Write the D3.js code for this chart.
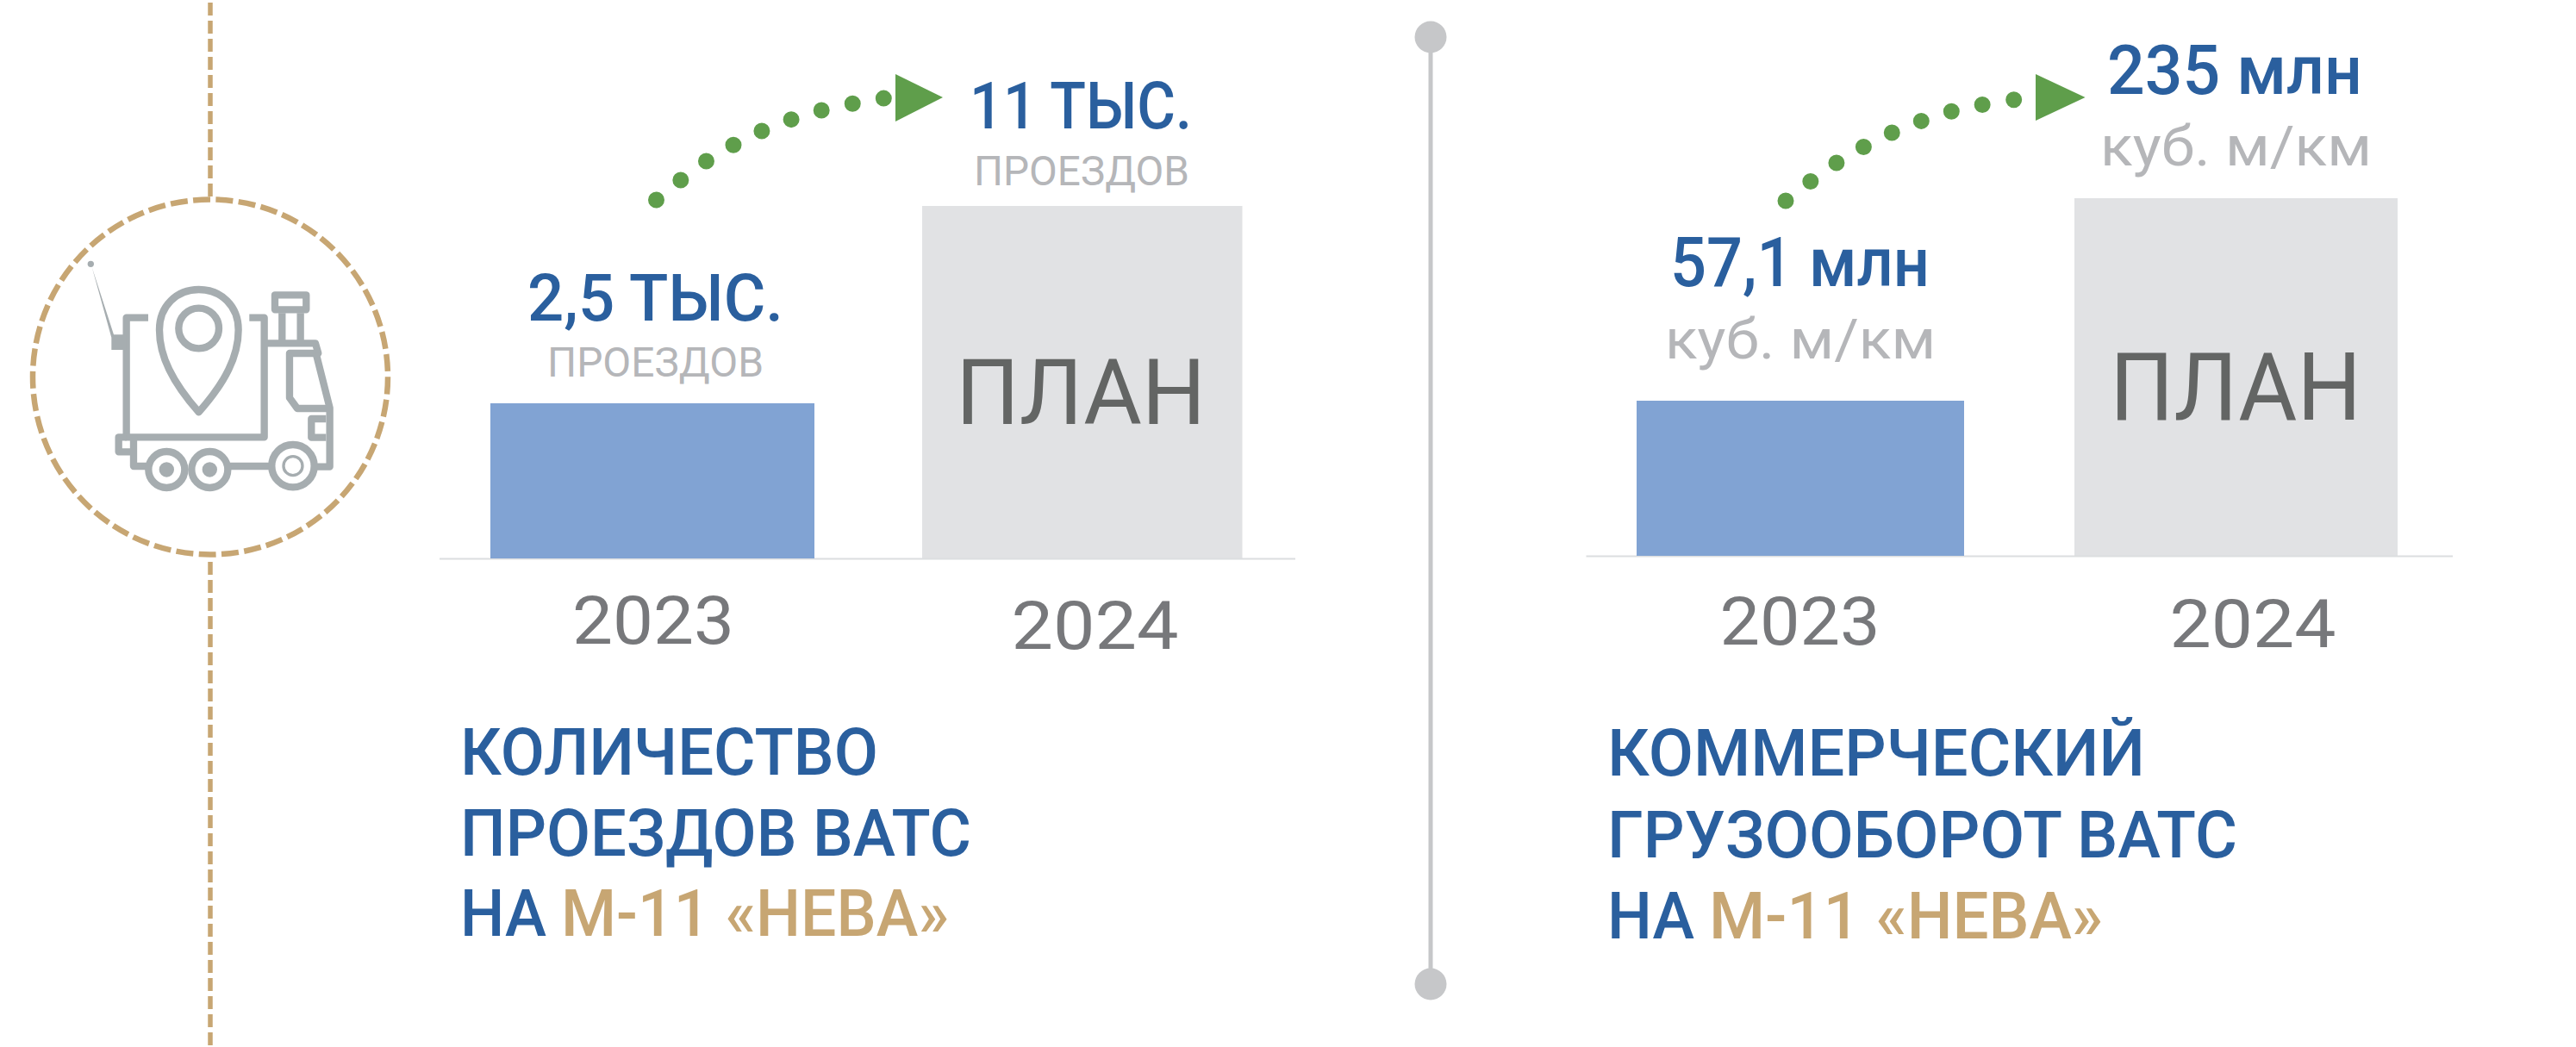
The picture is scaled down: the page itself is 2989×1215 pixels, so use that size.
<!DOCTYPE html>
<html lang="ru"><head><meta charset="utf-8">
<script src="https://cdnjs.cloudflare.com/ajax/libs/d3/7.8.5/d3.min.js"></script>
<style>html,body{margin:0;background:#fff}svg{display:block}text{font-family:Roboto,sans-serif}</style>
</head><body><svg id="c" width="2989" height="1215"></svg>
<script>
const years = ["2023","2024"];
const passes = [2.5, 11];
const freight = [57.1, 235];
const passLabels = ["2,5 ТЫС.","11 ТЫС."];
const passUnits = ["ПРОЕЗДОВ","ПРОЕЗДОВ"];
const freightLabels = ["57,1 млн","235 млн"];
const freightUnits = ["куб. м/км","куб. м/км"];
const planLabel = "ПЛАН";
const title1 = ["КОЛИЧЕСТВО","ПРОЕЗДОВ ВАТС"];
const title2 = ["КОММЕРЧЕСКИЙ","ГРУЗООБОРОТ ВАТС"];
const titleNa = "НА";
const titleRoad = "М-11 «НЕВА»";

const BLUE="#2a5f9e",TAN="#c7a673",UNIT="#b5b6b9",YEAR="#77787b",PLAN="#636564",
      BAR="#81a3d3",BARPLAN="#e1e2e4",GREEN="#5f9e4b",RULE="#dcdee0",POLE="#c6c7c9",ICON="#a6adb0";
const svg=d3.select("#c");

function fit(g,str,x0,x1,base,size,fill,weight){
  return g.append("text").text(str).attr("x",x0).attr("y",base)
   .attr("font-size",size).attr("font-weight",weight||400).attr("fill",fill)
   .attr("textLength",x1-x0).attr("lengthAdjust","spacingAndGlyphs");
}

function chart(cfg){
  const g=svg.append("g");
  const y=d3.scaleLinear().domain([0,cfg.values[0],cfg.values[1]]).range([cfg.base,cfg.tops[0],cfg.tops[1]]);
  const xLeft=d3.scaleOrdinal().domain(years).range(cfg.lefts);
  const xWidth=d3.scaleOrdinal().domain(years).range(cfg.widths);
  g.selectAll("rect.bar").data(years.map((k,i)=>({k,v:cfg.values[i],i}))).join("rect").attr("class","bar")
    .attr("x",d=>xLeft(d.k)).attr("width",d=>xWidth(d.k))
    .attr("y",d=>y(d.v)).attr("height",d=>y(0)-y(d.v))
    .attr("fill",d=>d.i===0?BAR:BARPLAN);
  g.append("line").attr("x1",cfg.rule[0]).attr("x2",cfg.rule[1]).attr("y1",cfg.base+.5).attr("y2",cfg.base+.5)
    .attr("stroke",RULE).attr("stroke-width",2);
  g.select("rect.bar").raise();
  // year axis
  const xp=d3.scaleOrdinal().domain(years).range(cfg.yearCx);
  const ax=g.append("g").attr("transform",`translate(0,${cfg.base})`)
    .call(d3.axisBottom(xp).tickSize(0).tickPadding(0));
  ax.select(".domain").remove();
  ax.selectAll(".tick text").each(function(d,i){
    const w=cfg.yearW[i];
    d3.select(this).attr("font-family","Roboto,sans-serif").attr("font-size",78).attr("fill",YEAR)
      .attr("dy",0).attr("y",cfg.yearBase[i]-cfg.base).attr("x",-w/2).attr("text-anchor","start")
      .attr("textLength",w).attr("lengthAdjust","spacingAndGlyphs");
  });
  // plan
  fit(g,planLabel,cfg.plan[0],cfg.plan[1],cfg.plan[2],cfg.plan[3],PLAN);
  // value labels
  cfg.labels.forEach((t,i)=>fit(g,t,...cfg.labelPos[i],BLUE,500));
  cfg.units.forEach((t,i)=>fit(g,t,...cfg.unitPos[i],UNIT));
  // dotted arrow
  const line=d3.line().curve(d3.curveCatmullRom);
  g.append("path").attr("d",line(cfg.arc)).attr("fill","none").attr("stroke",GREEN)
    .attr("stroke-width",19).attr("stroke-linecap","round").attr("stroke-dasharray","0 36.7");
  g.append("path").attr("d",d3.line()(cfg.head)+"Z").attr("fill",GREEN);
  // titles
  cfg.titles.forEach((t,i)=>fit(g,t,...cfg.titlePos[i],BLUE,500));
  fit(g,titleNa,...cfg.naPos,BLUE,500);
  fit(g,titleRoad,...cfg.roadPos,TAN,500);
}

chart({values:passes,base:648,tops:[468,239],lefts:[569,1070],widths:[376,371.5],rule:[510,1503],
  yearCx:[757.5,1270],yearW:[188,194],yearBase:[747,753],
  plan:[1109,1399,492,106],
  labels:passLabels,labelPos:[[612,909,372,76],[1125,1383,149,76]],
  units:passUnits,unitPos:[[635,886,437,48],[1130,1380,215,48]],
  arc:[[761.5,232],[819.5,187],[884,152],[953,128],[1026,114]],
  head:[[1039,86],[1094,113],[1039,141]],
  titles:title1,titlePos:[[534,1019,899,76],[534,1127,993,76]],
  naPos:[534,634,1086,76],roadPos:[651,1101,1086,76]});

chart({values:freight,base:645,tops:[465,230],lefts:[1899,2407],widths:[380,375],rule:[1840.5,2846],
  yearCx:[2088,2613.5],yearW:[186,193],yearBase:[748,751],
  plan:[2448,2740,487,109],
  labels:freightLabels,labelPos:[[1938,2239,332,79],[2445,2741,109,79]],
  units:freightUnits,unitPos:[[1932,2246,416,65],[2437,2752,192,65]],
  arc:[[2072,233],[2132.5,188],[2200,152],[2273,127],[2349,114]],
  head:[[2362,86],[2419.5,113],[2362,140]],
  titles:title2,titlePos:[[1865,2489,900,76],[1865,2596,995,76]],
  naPos:[1865,1966,1089,76],roadPos:[1983,2440,1089,76]});

// centre divider
svg.append("line").attr("x1",1660).attr("x2",1660).attr("y1",43).attr("y2",1142).attr("stroke",POLE).attr("stroke-width",5);
[43,1142].forEach(cy=>svg.append("circle").attr("cx",1660).attr("cy",cy).attr("r",18.5).attr("fill",POLE));

// left dashed rail and circle
[[3,228],[652,1215]].forEach(([a,b])=>svg.append("line").attr("x1",244).attr("x2",244).attr("y1",a).attr("y2",b)
  .attr("stroke",TAN).attr("stroke-width",5.5).attr("stroke-dasharray","15 6"));
svg.append("circle").attr("cx",244).attr("cy",437.5).attr("r",206).attr("fill","none")
  .attr("stroke",TAN).attr("stroke-width",6.5).attr("stroke-dasharray","20 6.4");

// truck icon
const ic=svg.append("g").attr("transform","translate(0,200) scale(0.3333)")
  .attr("fill","none").attr("stroke",ICON).attr("stroke-width",25).attr("stroke-linejoin","round");
[
 "M516,506 H440 V922 H920 V506 H868",
 "M692,835 C600,730 555,640 555,548 C555,465 615,408 692,408 C770,408 830,465 830,548 C830,640 785,730 692,835Z",
 "M957,427 H1066 V478 H957Z",
 "M982,490 V595 M1046,490 V595",
 "M920,595 H1098 L1108,630 H1008 V785 L1035,822 H1145",
 "M1100,630 L1148,820 V1025 H1100",
 "M1135,858 H1084 V923 H1135",
 "M440,922 H413 V973 H465",
 "M465,922 V1023 H510",
 "M800,1023 H940"
].forEach(d=>ic.append("path").attr("d",d));
ic.append("circle").attr("cx",692).attr("cy",543).attr("r",70);
[[580,1035,63,26],[730,1035,63,26]].forEach(([x,y,r,h])=>{
  ic.append("circle").attr("cx",x).attr("cy",y).attr("r",r).attr("fill","#fff");
  ic.append("circle").attr("cx",x).attr("cy",y).attr("r",h).attr("fill",ICON).attr("stroke","none");
});
ic.append("circle").attr("cx",1020).attr("cy",1022).attr("r",74).attr("fill","#fff");
ic.append("circle").attr("cx",1020).attr("cy",1022).attr("r",33).attr("stroke-width",10);
ic.append("path").attr("d","M388,565 H440 V618 H388Z M320,330 L396,565 L388,575Z").attr("fill",ICON).attr("stroke","none");
ic.append("circle").attr("cx",316).attr("cy",319).attr("r",11).attr("fill",ICON).attr("stroke","none");
</script></body></html>
